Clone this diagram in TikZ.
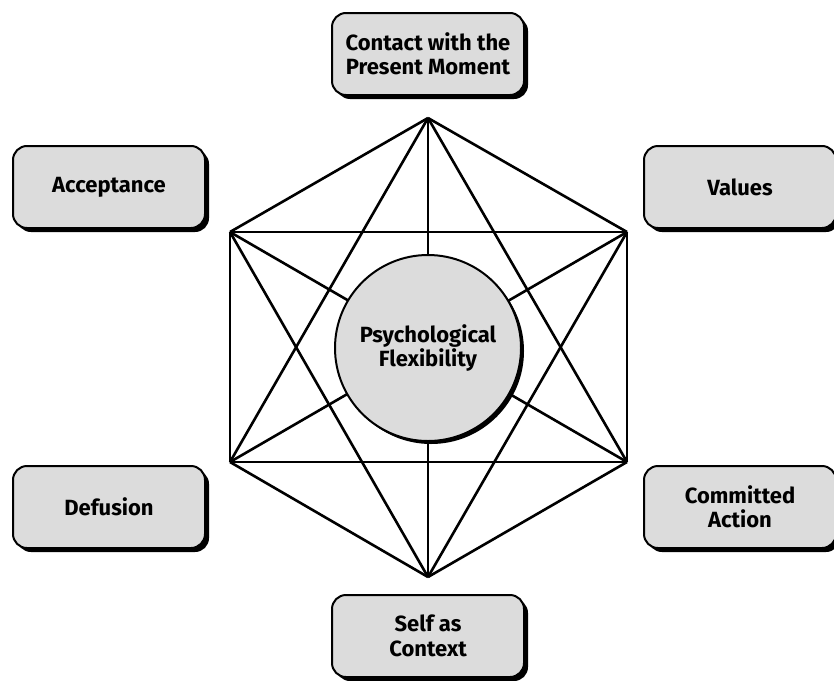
\documentclass[tikz,border=0pt]{standalone}
\usepackage{fontspec}
\setmainfont{Fira Sans}
\usetikzlibrary{shadows}
\begin{document}
\begin{tikzpicture}[x=1pt,y=-1pt,
  box/.style={draw=black,line width=2pt,fill=boxgray,rounded corners=14pt,
    minimum width=192pt,minimum height=82pt,align=center,inner sep=0pt,
    font=\fontsize{22}{24.5}\selectfont\bfseries,
    drop shadow={shadow xshift=4pt,shadow yshift=-4pt,fill=black,opacity=1}},
  hub/.style={circle,draw=black,line width=2pt,fill=boxgray,minimum size=186pt,
    inner sep=0pt,align=center,font=\fontsize{22}{24.5}\selectfont\bfseries,
    drop shadow={shadow xshift=3pt,shadow yshift=-3pt,fill=black,opacity=1}},
  edge/.style={line width=2.6pt,line join=round}]
\definecolor{boxgray}{RGB}{220,220,220}
\useasboundingbox (0,0) rectangle (834,680);
\coordinate (T) at (428,118);
\coordinate (UL) at (230,232);
\coordinate (UR) at (627,232);
\coordinate (LL) at (230,462);
\coordinate (LR) at (627,462);
\coordinate (B) at (428,577);
\foreach \a/\b in {T/UL,T/UR,UL/LL,UR/LR,LL/B,LR/B,T/LL,T/LR,UL/UR,LL/LR,UL/B,UR/B,T/B,UL/LR,UR/LL}
  \draw[edge] (\a) -- (\b);
\node[hub] (pf) at (428,348) {Psychological\\Flexibility};
\node[box] (cp) at (428,54) {Contact with the\\Present Moment};
\node[box] (ac) at (109,187) {Acceptance};
\node[box] (va) at (740,187) {Values};
\node[box] (de) at (109,507) {Defusion};
\node[box] (ca) at (740,507) {Committed\\Action};
\node[box] (sc) at (428,636) {Self as\\Context};
\end{tikzpicture}
\end{document}
